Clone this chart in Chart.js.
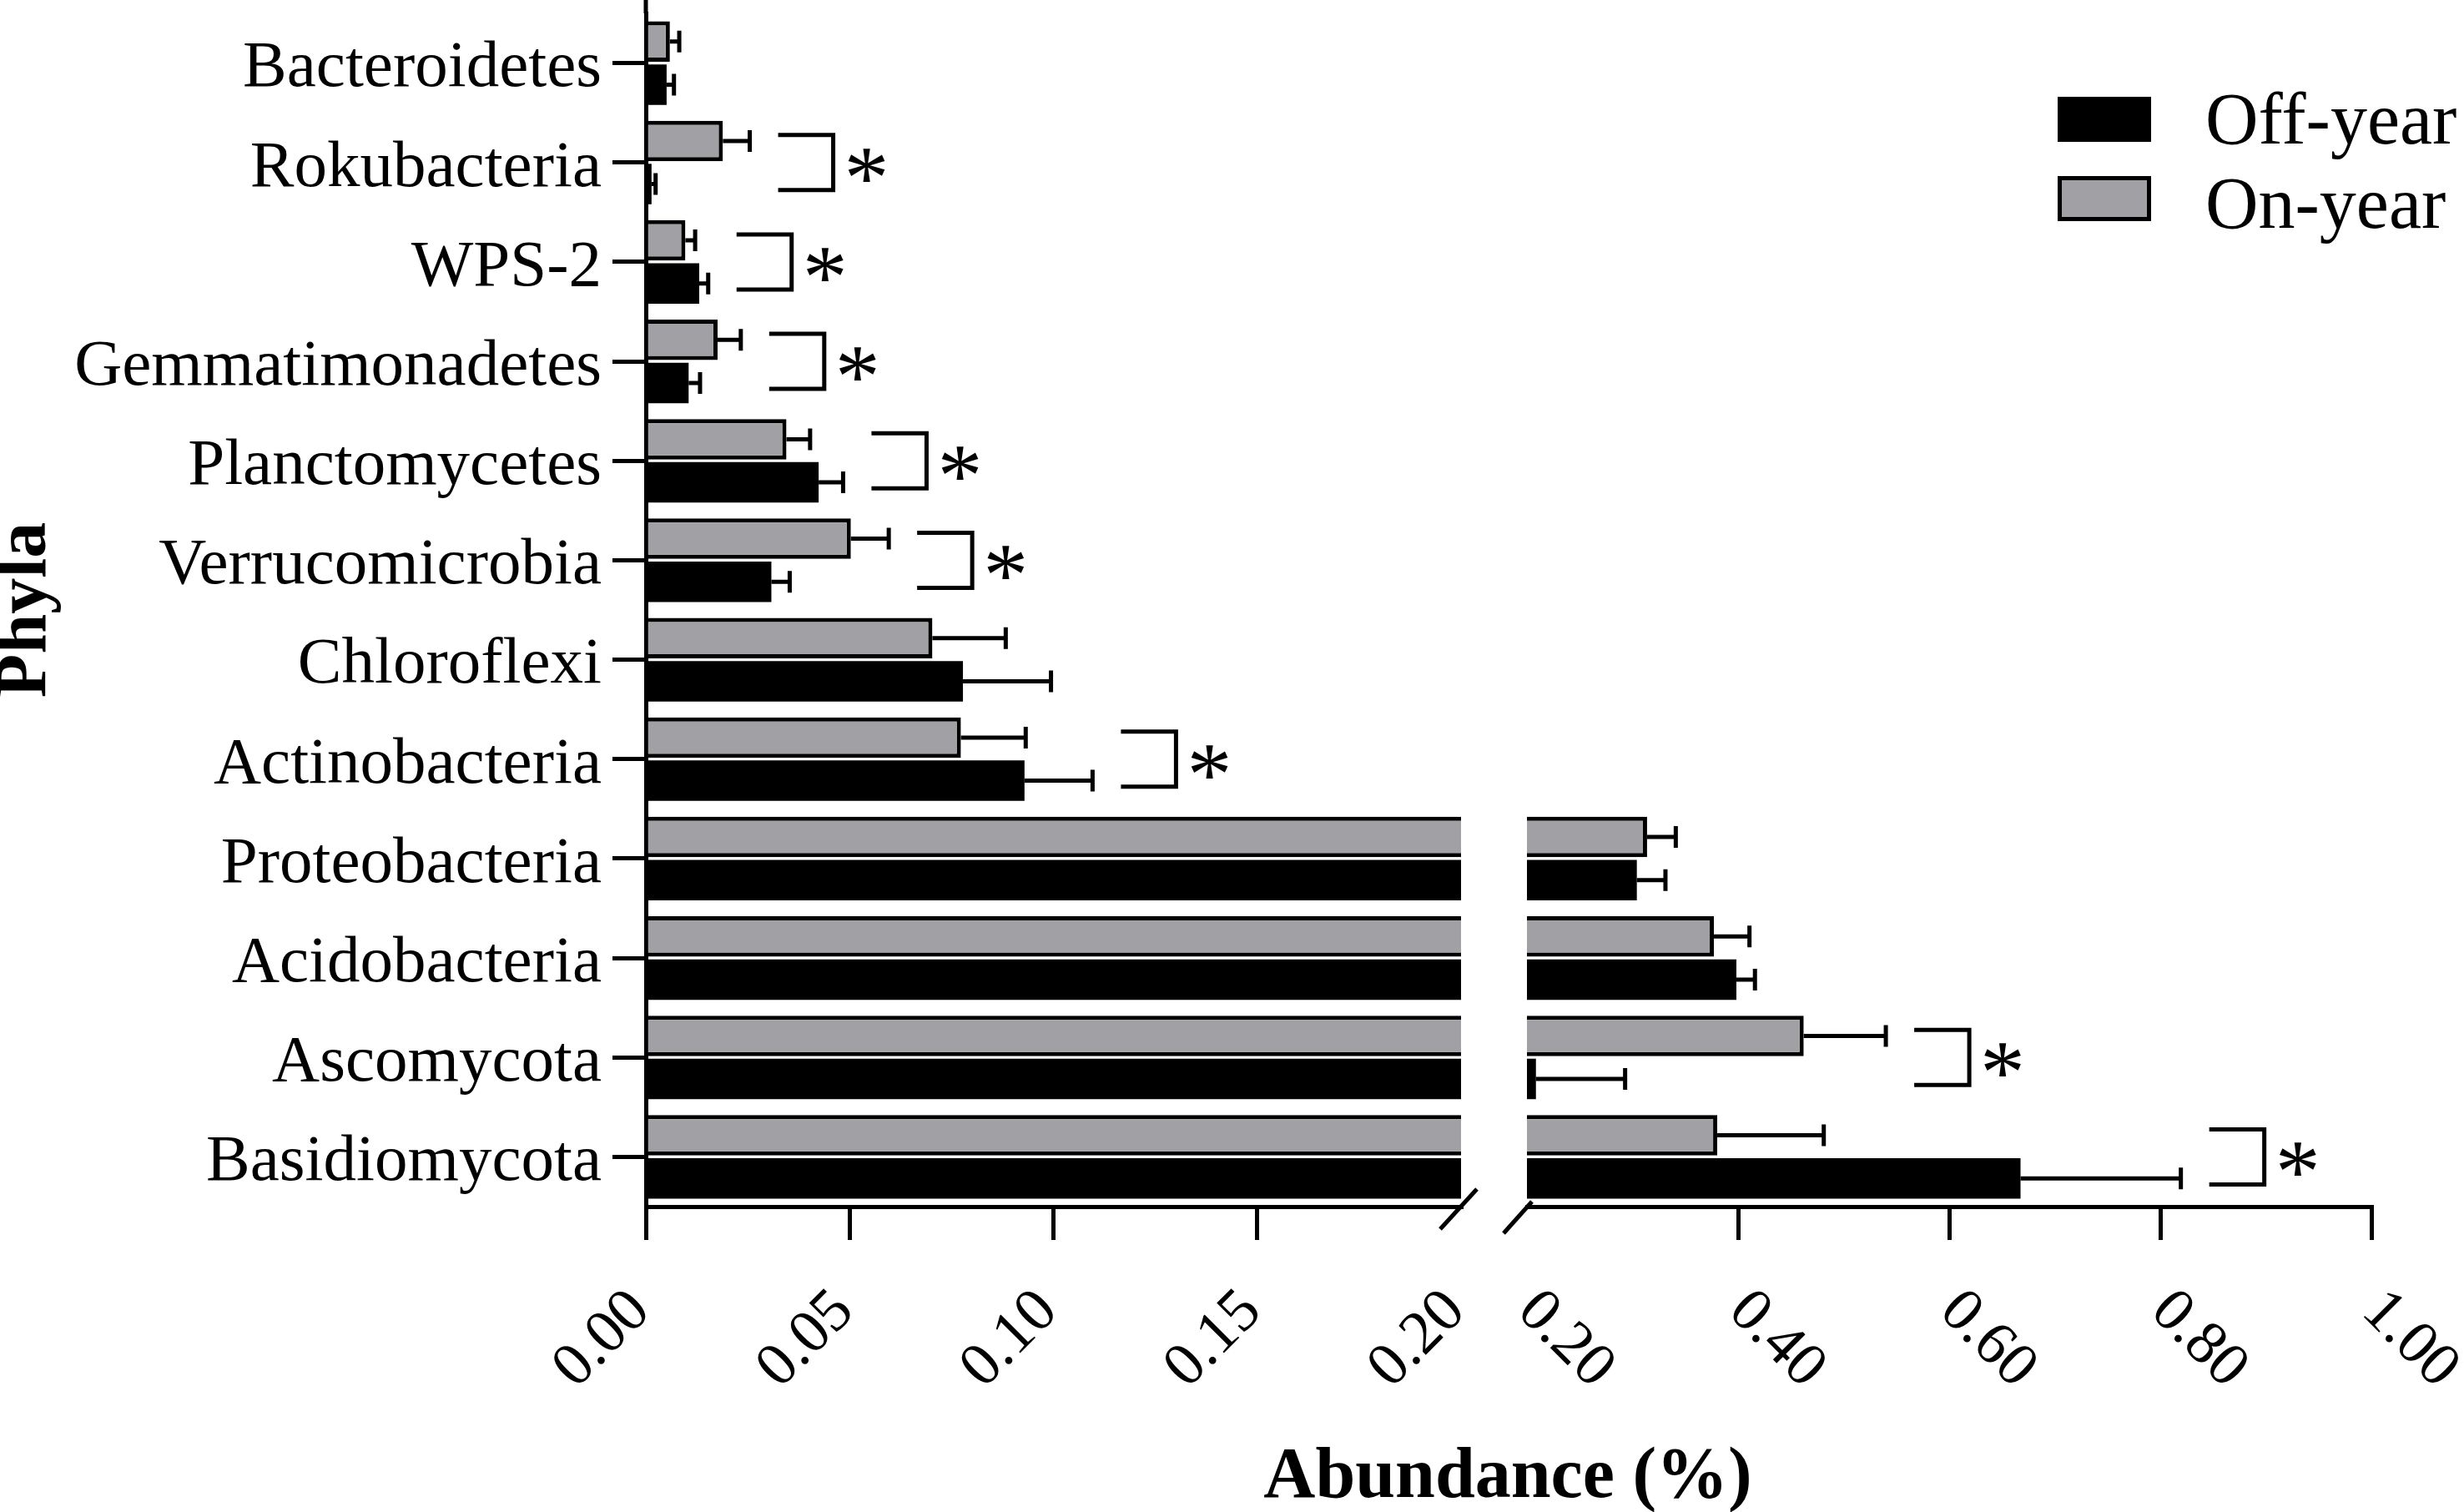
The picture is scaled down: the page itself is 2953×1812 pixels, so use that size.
<!DOCTYPE html>
<html>
<head>
<meta charset="utf-8">
<script src="https://cdn.jsdelivr.net/npm/chart.js@4.4.0/dist/chart.umd.min.js"></script>
<style>
  body { margin: 0; background: #fff; width: 2953px; height: 1812px; overflow: hidden; position: relative; }
  canvas { position: absolute; top: 0; }
  #leftChart { left: 0; }
  #rightChart { left: 1790px; }
  .serif { font-family: "Liberation Serif", "Times New Roman", serif; color: #000; position: absolute; white-space: nowrap; }
  #xTitle { left: 1207px; width: 1200px; top: 1722px; text-align: center; font-size: 86px; font-weight: bold; line-height: 1; }
  .legend-row { position: absolute; left: 2466px; height: 88px; }
  .legend-box { position: absolute; left: 0; width: 112px; height: 54px; box-sizing: border-box; border: 5px solid #000; }
  .legend-text { position: absolute; left: 177px; top: 0; font-size: 88px; line-height: 1; }
</style>
</head>
<body>
<canvas id="leftChart" width="1800" height="1812"></canvas>
<canvas id="rightChart" width="1163" height="1812"></canvas>
<div id="xTitle" class="serif">Abundance (%)</div>
<div id="legend"></div>

<script>
// ===== Data =====

const phyla = ['Bacteroidetes', 'Rokubacteria', 'WPS-2', 'Gemmatimonadetes', 'Planctomycetes',
  'Verrucomicrobia', 'Chloroflexi', 'Actinobacteria', 'Proteobacteria', 'Acidobacteria',
  'Ascomycota', 'Basidiomycota'];

const onYear    = [0.0059, 0.0189, 0.0097, 0.0176, 0.0345, 0.0503, 0.0703, 0.0773, 0.3138, 0.3771, 0.4622, 0.3803];
const onYearSd  = [0.0023, 0.0066, 0.0024, 0.0057, 0.0058, 0.0093, 0.0180, 0.0159, 0.0272, 0.0337, 0.0778, 0.1009];
const offYear   = [0.0051, 0.0014, 0.0131, 0.0105, 0.0424, 0.0308, 0.0778, 0.0929, 0.3041, 0.3984, 0.2085, 0.6676];
const offYearSd = [0.0018, 0.0010, 0.0022, 0.0028, 0.0060, 0.0045, 0.0216, 0.0167, 0.0271, 0.0176, 0.0845, 0.1519];

// which phyla carry a significance bracket
const significant = [false, true, true, true, true, true, false, true, false, false, true, true];

const leftTicks = [0.00, 0.05, 0.10, 0.15, 0.20];
const rightTicks = [0.20, 0.40, 0.60, 0.80, 1.00];
const breakValue = 0.20;

const FONT = '"Liberation Serif", "Times New Roman", serif';
const GRAY = '#a1a1a5';

// ===== Plugins =====

const errorBars = {
  id: 'errorBars',
  afterDatasetsDraw(chart) {
    const { ctx, chartArea: a, scales: { x } } = chart;
    ctx.save();
    ctx.beginPath();
    ctx.rect(a.left, a.top - 20, a.right - a.left, a.bottom - a.top + 40);
    ctx.clip();
    ctx.strokeStyle = '#000';
    ctx.lineWidth = 5;
    chart.data.datasets.forEach((ds, di) => {
      chart.getDatasetMeta(di).data.forEach((bar, i) => {
        const end = x.getPixelForValue(ds.data[i] + ds.sd[i]);
        const cap = 13;
        ctx.beginPath();
        ctx.moveTo(bar.x, bar.y);
        ctx.lineTo(end, bar.y);
        ctx.moveTo(end, bar.y - cap);
        ctx.lineTo(end, bar.y + cap);
        ctx.stroke();
      });
    });
    ctx.restore();
  }
};

const brackets = {
  id: 'brackets',
  afterDatasetsDraw(chart) {
    const { ctx, scales: { x, y } } = chart;
    ctx.save();
    ctx.strokeStyle = '#000';
    ctx.fillStyle = '#000';
    ctx.lineWidth = 5;
    ctx.font = `108px ${FONT}`;
    ctx.textAlign = 'center';
    ctx.textBaseline = 'alphabetic';
    significant.forEach((sig, i) => {
      if (!sig) return;
      const top = Math.max(onYear[i] + onYearSd[i], offYear[i] + offYearSd[i]);
      if (top < x.min || top >= x.max) return;
      const x0 = x.getPixelForValue(top) + 34;
      const x1 = x0 + 66;
      const cy = y.getPixelForValue(i);
      ctx.beginPath();
      ctx.moveTo(x0, cy - 33);
      ctx.lineTo(x1, cy - 33);
      ctx.lineTo(x1, cy + 33);
      ctx.lineTo(x0, cy + 33);
      ctx.stroke();
      ctx.fillText('*', x1 + 40, cy + 54);
    });
    ctx.restore();
  }
};

// slash marks where the axis is broken
const axisBreak = {
  id: 'axisBreak',
  afterDraw(chart, args, opts) {
    const { ctx, chartArea: a } = chart;
    const cx = (opts.side === 'right' ? a.right : a.left) + opts.dx;
    const cy = a.bottom + opts.dy;
    ctx.save();
    ctx.strokeStyle = '#000';
    ctx.lineWidth = 5;
    ctx.beginPath();
    ctx.moveTo(cx - opts.hw, cy + opts.hh);
    ctx.lineTo(cx + opts.hw, cy - opts.hh);
    ctx.stroke();
    if (opts.extendAxis) {
      ctx.beginPath();
      ctx.moveTo(a.left, 0);
      ctx.lineTo(a.left, a.top);
      ctx.stroke();
    }
    ctx.restore();
  }
};

// rotated tick labels (left panel tilts up, right panel tilts down)
const tickText = {
  id: 'tickText',
  afterDraw(chart, args, opts) {
    const { ctx, scales: { x } } = chart;
    ctx.save();
    ctx.font = `74px ${FONT}`;
    ctx.fillStyle = '#000';
    ctx.textBaseline = 'middle';
    ctx.textAlign = opts.align;
    x.ticks.forEach(t => {
      ctx.save();
      ctx.translate(x.getPixelForValue(t.value) + opts.dx, x.top + 114);
      ctx.rotate(opts.angle);
      ctx.fillText(t.value.toFixed(2), 0, 0);
      ctx.restore();
    });
    ctx.restore();
  }
};

// ===== Charts =====

function makeDatasets() {
  return [
    { label: 'On-year', data: onYear, sd: onYearSd, backgroundColor: GRAY, borderColor: '#000', borderWidth: 5, clip: 0 },
    { label: 'Off-year', data: offYear, sd: offYearSd, backgroundColor: '#000', borderColor: '#000', borderWidth: 0, clip: 0 }
  ];
}

function xScale(min, max, ticks) {
  return {
    type: 'linear',
    min: min,
    max: max,
    afterBuildTicks: s => { s.ticks = ticks.map(v => ({ value: v })); },
    afterFit: s => { s.height = 366; s.paddingLeft = 0; s.paddingRight = 0; },
    ticks: { display: false },
    grid: {
      drawOnChartArea: false,
      drawTicks: true,
      tickLength: 40,
      lineWidth: 5,
      color: c => (c.tick && Math.abs(c.tick.value - breakValue) < 1e-9 ? 'transparent' : '#000')
    },
    border: { display: true, color: '#000', width: 5 }
  };
}

const common = {
  indexAxis: 'y',
  responsive: false,
  animation: false,
  devicePixelRatio: 1,
  events: [],
  categoryPercentage: 0.866,
  barPercentage: 0.94
};

const leftChart = new Chart(document.getElementById('leftChart'), {
  type: 'bar',
  data: { labels: phyla, datasets: makeDatasets() },
  options: {
    ...common,
    layout: { padding: { left: 0, right: 49, top: 16, bottom: 0 } },
    scales: {
      x: xScale(0, breakValue, leftTicks),
      y: {
        type: 'category',
        afterFit: s => { s.width = 774; s.paddingTop = 0; s.paddingBottom = 0; },
        ticks: { color: '#000', padding: 13, labelOffset: 7, font: { family: FONT, size: 79 } },
        grid: { drawOnChartArea: false, offset: false, tickLength: 40, lineWidth: 5, color: '#000' },
        border: { display: true, color: '#000', width: 5 },
        title: {
          display: true,
          text: 'Phyla',
          color: '#000',
          padding: 0,
          font: { family: FONT, size: 86, weight: 'bold', lineHeight: 0.75 }
        }
      }
    },
    plugins: {
      legend: { display: false },
      tooltip: { enabled: false },
      axisBreak: { side: 'right', dx: -3, dy: 3, hw: 22, hh: 24, extendAxis: true },
      tickText: { angle: -Math.PI / 4, align: 'right', dx: -6 }
    }
  },
  plugins: [errorBars, brackets, axisBreak, tickText]
});

const rightChart = new Chart(document.getElementById('rightChart'), {
  type: 'bar',
  data: { labels: phyla, datasets: makeDatasets() },
  options: {
    ...common,
    layout: { padding: { left: 40, right: 111, top: 16, bottom: 0 } },
    scales: {
      x: xScale(breakValue, 1.0, rightTicks),
      y: { type: 'category', display: false }
    },
    plugins: {
      legend: { display: false },
      tooltip: { enabled: false },
      axisBreak: { side: 'left', dx: -11, dy: 13, hw: 17, hh: 19, extendAxis: false },
      tickText: { angle: Math.PI / 4, align: 'left', dx: 0 }
    }
  },
  plugins: [errorBars, brackets, axisBreak, tickText]
});

// ===== Legend =====

const legendEl = document.getElementById('legend');
const legendTops = [116, 211];
rightChart.data.datasets.slice().reverse().forEach((ds, k) => {
  const row = document.createElement('div');
  row.className = 'legend-row';
  row.style.top = legendTops[k] + 'px';
  row.innerHTML = `<div class="legend-box" style="background:${ds.backgroundColor}"></div>` +
    `<div class="legend-text serif" style="top:${-17 + (k ? 1 : 0) * 6}px">${ds.label}</div>`;
  legendEl.appendChild(row);
});
</script>
</body>
</html>
